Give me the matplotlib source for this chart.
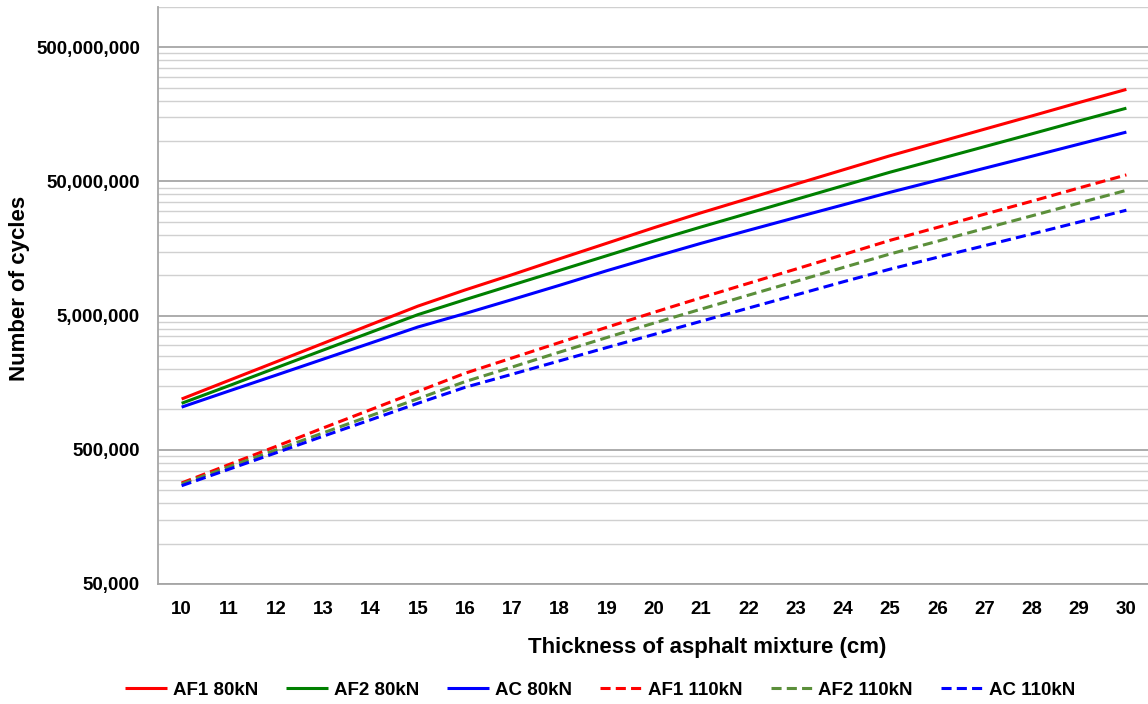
import matplotlib
matplotlib.use("Agg")
import matplotlib.pyplot as plt
from matplotlib.ticker import FixedLocator, FuncFormatter, NullFormatter

plt.rcParams['font.family'] = ['Liberation Sans', 'DejaVu Sans']
plt.rcParams['font.weight'] = 'bold'

thickness = list(range(10, 31))

af1_80 = [1.195e6, 1.644e6, 2.26e6, 3.11e6, 4.28e6, 5.88e6, 7.76e6, 10.1e6, 13.25e6, 17.3e6,
          22.6e6, 29.2e6, 37.3e6, 47.7e6, 60.9e6, 77.7e6, 97.6e6, 122.6e6, 153.8e6, 193.6e6, 242.4e6]
af2_80 = [1.11e6, 1.50e6, 2.04e6, 2.77e6, 3.75e6, 5.08e6, 6.57e6, 8.45e6, 10.86e6, 13.97e6,
          17.98e6, 22.9e6, 28.97e6, 36.66e6, 46.4e6, 58.6e6, 72.9e6, 90.8e6, 113.1e6, 141.2e6, 175.6e6]
ac_80 = [1.04e6, 1.37e6, 1.80e6, 2.37e6, 3.12e6, 4.11e6, 5.18e6, 6.59e6, 8.41e6, 10.8e6,
         13.7e6, 17.3e6, 21.6e6, 26.9e6, 33.4e6, 41.5e6, 51.0e6, 62.7e6, 77.0e6, 94.8e6, 116.5e6]
af1_110 = [283e3, 388e3, 530e3, 728e3, 995e3, 1.36e6, 1.86e6, 2.42e6, 3.15e6, 4.09e6,
           5.29e6, 6.80e6, 8.70e6, 11.1e6, 14.2e6, 18.2e6, 22.7e6, 28.5e6, 35.6e6, 44.7e6, 55.9e6]
af2_110 = [278e3, 373e3, 499e3, 669e3, 897e3, 1.20e6, 1.61e6, 2.07e6, 2.67e6, 3.43e6,
           4.40e6, 5.59e6, 7.10e6, 8.99e6, 11.4e6, 14.4e6, 17.9e6, 22.3e6, 27.7e6, 34.5e6, 42.9e6]
ac_110 = [270e3, 358e3, 475e3, 632e3, 836e3, 1.11e6, 1.46e6, 1.83e6, 2.30e6, 2.89e6,
          3.62e6, 4.54e6, 5.69e6, 7.12e6, 8.92e6, 11.1e6, 13.6e6, 16.6e6, 20.3e6, 24.9e6, 30.5e6]

series = [
    ("AF1 80kN", af1_80, "#FF0000", "-"),
    ("AF2 80kN", af2_80, "#008000", "-"),
    ("AC 80kN", ac_80, "#0000FF", "-"),
    ("AF1 110kN", af1_110, "#FF0000", "--"),
    ("AF2 110kN", af2_110, "#5B8F3A", "--"),
    ("AC 110kN", ac_110, "#0000FF", "--"),
]

major_ticks = [5e4, 5e5, 5e6, 5e7, 5e8]

W, H = 1148, 704
fig = plt.figure(figsize=(W / 100, H / 100), dpi=100)
ax = fig.add_axes([158 / W, (H - 584) / H, (1150 - 158) / W, (584 - 6.8) / H])

handles = []
for name, vals, col, ls in series:
    if ls == "-":
        h, = ax.plot(thickness, vals, color=col, lw=2.2, label=name, solid_capstyle='butt')
    else:
        h, = ax.plot(thickness, vals, color=col, lw=2.2, label=name, dashes=(3.3, 1.7),
                     dash_capstyle='butt')
    handles.append(h)

ax.set_yscale('log')
ax.set_ylim(5e4, 1e9)
ax.set_xlim(9.5, 30.5)

minor = []
for mt in major_ticks:
    for m in range(2, 10):
        v = mt * m
        if v <= 1e9 * 1.0001:
            minor.append(v)
ax.yaxis.set_major_locator(FixedLocator(major_ticks))
ax.yaxis.set_minor_locator(FixedLocator(minor))
ax.yaxis.set_major_formatter(FuncFormatter(lambda v, p: f"{int(round(v)):,}"))
ax.yaxis.set_minor_formatter(NullFormatter())
ax.set_xticks(thickness)
ax.set_xticklabels([str(t) for t in thickness])

ax.grid(which='major', axis='y', color='#a6a6a6', lw=1.3)
ax.grid(which='minor', axis='y', color='#d0d0d0', lw=1.0)
ax.set_axisbelow(True)

for s in ['top', 'right']:
    ax.spines[s].set_visible(False)
for s in ['left', 'bottom']:
    ax.spines[s].set_color('#a6a6a6')
    ax.spines[s].set_linewidth(1.3)

ax.tick_params(axis='both', which='both', length=0)
ax.tick_params(axis='y', labelsize=13.5, pad=13)
ax.tick_params(axis='x', labelsize=13.5, pad=12)
for lab in ax.get_xticklabels() + ax.get_yticklabels():
    lab.set_fontweight('bold')

fig.text(707 / W, 1 - 647 / H, "Thickness of asphalt mixture (cm)", ha='center', va='center',
         fontsize=16, fontweight='bold')
fig.text(20 / W, 1 - 288 / H, "Number of cycles", ha='center', va='center', rotation=90,
         fontsize=16, fontweight='bold')

leg = fig.legend(handles=handles, loc='center', bbox_to_anchor=(600 / W, 1 - 690 / H), ncol=6,
                 frameon=False, prop={'size': 13.5, 'weight': 'bold'}, handlelength=2.25,
                 handletextpad=0.3, columnspacing=1.5, borderaxespad=0, borderpad=0)

fig.savefig("out.png", dpi=100)
